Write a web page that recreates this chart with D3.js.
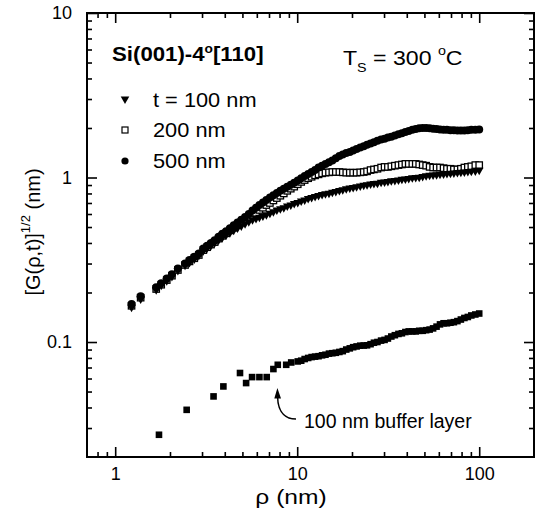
<!DOCTYPE html>
<html><head><meta charset="utf-8">
<script src="https://cdn.jsdelivr.net/npm/d3@7"></script>
<style>
body{margin:0;background:#fff}
text{font-family:"Liberation Sans",Arial,Helvetica,sans-serif;fill:#000}
</style>
</head><body>
<svg id="chart" width="541" height="524"></svg>
<script>
// ---------- data ----------
const rho = [
  1.23, 1.38, 1.68, 1.79, 1.92,
  2.05, 2.21, 2.42, 2.56, 2.72,
  2.88, 3.05, 3.2, 3.36, 3.52,
  3.7, 3.88, 4.07, 4.27, 4.48,
  4.7, 4.93, 5.17, 5.42, 5.68,
  5.94, 6.2, 6.48, 6.77, 7.08,
  7.4, 7.73, 8.08, 8.44, 8.82,
  9.22, 9.63, 10.07, 10.52, 10.99,
  11.49, 12.0, 12.54, 13.1, 13.7,
  14.3, 14.95, 15.6, 16.3, 17.05,
  17.8, 18.6, 19.45, 20.3, 21.2,
  22.2, 23.2, 24.2, 25.3, 26.4,
  27.6, 28.9, 30.2, 31.5, 32.9,
  34.4, 36.0, 37.6, 39.3, 41.0,
  42.9, 44.8, 46.8, 48.9, 51.1,
  53.4, 55.8, 58.3, 60.9, 63.7,
  66.5, 69.5, 72.6, 75.9, 79.3,
  82.9, 86.6, 90.5, 95.2, 100
];
// t = 100 nm (filled down-triangles)
const g100 = [
  0.16, 0.18, 0.205, 0.218, 0.232,
  0.246, 0.268, 0.288, 0.30, 0.315,
  0.33, 0.353, 0.367, 0.38, 0.395,
  0.41, 0.425, 0.44, 0.455, 0.47,
  0.485, 0.50, 0.515, 0.53, 0.545,
  0.555, 0.565, 0.575, 0.585, 0.597,
  0.61, 0.625, 0.635, 0.645, 0.66,
  0.67, 0.685, 0.695, 0.71, 0.72,
  0.735, 0.745, 0.755, 0.765, 0.775,
  0.785, 0.79, 0.80, 0.81, 0.82,
  0.83, 0.84, 0.85, 0.855, 0.865,
  0.875, 0.885, 0.89, 0.90, 0.905,
  0.91, 0.92, 0.925, 0.93, 0.94,
  0.945, 0.95, 0.96, 0.965, 0.97,
  0.98, 0.985, 0.99, 1.0, 1.01,
  1.015, 1.02, 1.025, 1.03, 1.035,
  1.04, 1.045, 1.05, 1.055, 1.06,
  1.065, 1.07, 1.075, 1.08, 1.09
];
// t = 200 nm (open squares)
const g200 = [
  0.166, 0.186, 0.21, 0.223, 0.238,
  0.253, 0.274, 0.294, 0.309, 0.323,
  0.338, 0.362, 0.377, 0.391, 0.405,
  0.425, 0.442, 0.458, 0.477, 0.495,
  0.513, 0.533, 0.553, 0.57, 0.59,
  0.61, 0.635, 0.655, 0.68, 0.70,
  0.725, 0.75, 0.775, 0.80, 0.83,
  0.855, 0.88, 0.91, 0.94, 0.965,
  0.99, 1.01, 1.03, 1.045, 1.06,
  1.07, 1.075, 1.08, 1.08, 1.08,
  1.075, 1.07, 1.07, 1.07, 1.07,
  1.075, 1.08, 1.09, 1.11, 1.12,
  1.13, 1.15, 1.16, 1.16, 1.17,
  1.18, 1.19, 1.20, 1.21, 1.21,
  1.21, 1.21, 1.20, 1.19, 1.18,
  1.16, 1.15, 1.15, 1.15, 1.14,
  1.13, 1.13, 1.12, 1.12, 1.13,
  1.15, 1.16, 1.17, 1.19, 1.19
];
// t = 500 nm (filled circles)
const g500 = [
  0.17, 0.19, 0.215, 0.228, 0.243,
  0.258, 0.28, 0.30, 0.315, 0.33,
  0.345, 0.37, 0.385, 0.40, 0.415,
  0.437, 0.455, 0.472, 0.492, 0.512,
  0.532, 0.553, 0.575, 0.60, 0.63,
  0.655, 0.68, 0.705, 0.73, 0.755,
  0.78, 0.805, 0.83, 0.855, 0.88,
  0.905, 0.93, 0.96, 0.99, 1.02,
  1.05, 1.08, 1.11, 1.15, 1.18,
  1.21, 1.24, 1.27, 1.31, 1.35,
  1.38, 1.41, 1.43, 1.46, 1.49,
  1.52, 1.55, 1.58, 1.61, 1.64,
  1.67, 1.70, 1.72, 1.75, 1.77,
  1.80, 1.83, 1.86, 1.89, 1.92,
  1.95, 1.97, 1.99, 2.0, 2.0,
  1.99, 1.98, 1.97, 1.96, 1.95,
  1.95, 1.94, 1.94, 1.93, 1.93,
  1.93, 1.94, 1.95, 1.95, 1.96
];
// 100 nm buffer layer (filled squares)
const bufRho = [
  1.74, 2.47, 3.47, 3.93, 4.85,
  5.24, 5.65, 6.2, 6.8, 7.4,
  7.82, 8.7, 9.27, 10.07, 10.52,
  10.99, 11.49, 12.0, 12.54, 13.1,
  13.7, 14.3, 14.95, 15.6, 16.3,
  17.05, 17.8, 18.6, 19.45, 20.3,
  21.2, 22.2, 23.2, 24.2, 25.3,
  26.4, 27.6, 28.9, 30.2, 31.5,
  32.9, 34.4, 36.0, 37.6, 39.3,
  41.0, 42.9, 44.8, 46.8, 48.9,
  51.1, 53.4, 55.8, 58.3, 60.9,
  63.7, 66.5, 69.5, 72.6, 75.9,
  79.3, 82.9, 86.6, 90.5, 95.2, 100
];
const bufG = [
  0.0273, 0.0387, 0.0467, 0.0537, 0.0648,
  0.0563, 0.0612, 0.0612, 0.0612, 0.0685,
  0.0727, 0.0727, 0.0751, 0.0762, 0.077,
  0.0788, 0.080, 0.081, 0.0815, 0.082,
  0.083, 0.0837, 0.085, 0.0855, 0.086,
  0.087, 0.088, 0.090, 0.0915, 0.093,
  0.094, 0.095, 0.0952, 0.0955, 0.097,
  0.099, 0.100, 0.102, 0.103, 0.105,
  0.108, 0.110, 0.112, 0.113, 0.115,
  0.116, 0.116, 0.116, 0.117, 0.117,
  0.118, 0.119, 0.121, 0.124, 0.128,
  0.130, 0.130, 0.131, 0.132, 0.134,
  0.137, 0.140, 0.142, 0.145, 0.147, 0.149
];
const xMajor = [1, 10, 100];
const xMinor = [0.8, 0.9, 2, 3, 4, 5, 6, 7, 8, 9, 20, 30, 40, 50, 60, 70, 80, 90];
const yMajor = [0.1, 1, 10];
const yMinor = [0.03, 0.04, 0.05, 0.06, 0.07, 0.08, 0.09, 0.2, 0.3, 0.4, 0.5, 0.6, 0.7, 0.8, 0.9, 2, 3, 4, 5, 6, 7, 8, 9];
const legendLabels = ["t = 100 nm", "200 nm", "500 nm"];

// ---------- layout ----------
const L = 87, R = 534, T = 13, B = 457;
const svg = d3.select("#chart");
const x = d3.scaleLog().domain([0.7, 200]).range([L, R]);
const y = d3.scaleLog().domain([0.02, 10]).range([B, T]);
const fmt = d => String(d);

// axes (ticks inward)
function axisGroup(axisFn, vals, size, tx, ty, labels) {
  const a = axisFn.tickValues(vals).tickSize(-size).tickSizeOuter(0);
  if (labels) a.tickFormat(fmt); else a.tickFormat("");
  const g = svg.append("g").attr("transform", `translate(${tx},${ty})`).call(a);
  g.select(".domain").remove();
  g.selectAll(".tick line").attr("stroke", "#000").attr("stroke-width", 1.6);
  g.selectAll("text").attr("font-size", 18).attr("fill", "#000")
    .attr("font-family", '"Liberation Sans",Arial,sans-serif');
  return g;
}
axisGroup(d3.axisBottom(x).tickPadding(10.5), xMajor, 10, 0, B, true);
axisGroup(d3.axisBottom(x), xMinor, 5, 0, B, false);
axisGroup(d3.axisTop(x), xMajor, 10, 0, T, false);
axisGroup(d3.axisTop(x), xMinor, 5, 0, T, false);
axisGroup(d3.axisLeft(y).tickPadding(15), yMajor, 10, L, 0, true);
axisGroup(d3.axisLeft(y), yMinor, 5, L, 0, false);
axisGroup(d3.axisRight(y), yMajor, 10, R, 0, false);
axisGroup(d3.axisRight(y), yMinor, 5, R, 0, false);

svg.append("rect").attr("x", L).attr("y", T).attr("width", R - L).attr("height", B - T)
  .attr("fill", "none").attr("stroke", "#000").attr("stroke-width", 2);

// ---------- marks ----------
const tri = "M-4.3,-3.6L4.3,-3.6L0,3.9Z";
const pts = vals => vals.map((v, i) => [rho[i], v]);

// open squares (200 nm) drawn first
svg.append("g").selectAll("rect").data(pts(g200)).join("rect")
  .attr("x", d => x(d[0]) - 3.2).attr("y", d => y(d[1]) - 3.2)
  .attr("width", 6.4).attr("height", 6.4)
  .attr("fill", "#fff").attr("stroke", "#000").attr("stroke-width", 1.3);
// triangles (100 nm)
svg.append("g").selectAll("path").data(pts(g100)).join("path")
  .attr("d", tri).attr("transform", d => `translate(${x(d[0])},${y(d[1])})`)
  .attr("fill", "#000");
// circles (500 nm)
svg.append("g").selectAll("circle").data(pts(g500)).join("circle")
  .attr("cx", d => x(d[0])).attr("cy", d => y(d[1])).attr("r", 4)
  .attr("fill", "#000");
// buffer layer squares
svg.append("g").selectAll("rect").data(bufRho.map((r, i) => [r, bufG[i]])).join("rect")
  .attr("x", d => x(d[0]) - 3.3).attr("y", d => y(d[1]) - 3.3)
  .attr("width", 6.6).attr("height", 6.6).attr("fill", "#000");

// ---------- texts ----------
function wideText(tx, ty, sx, size) {
  return svg.append("g").attr("transform", `translate(${tx},${ty}) scale(${sx},1)`)
    .append("text").attr("x", 0).attr("y", 0).attr("font-size", size);
}
const t1 = wideText(112, 61, 1.14, 19.5).attr("font-weight", "bold");
t1.append("tspan").text("Si(001)-4");
t1.append("tspan").attr("font-size", 12).attr("dy", -8).text("o");
t1.append("tspan").attr("dy", 8).text("[110]");

const t2 = wideText(343, 65, 1.1, 21);
t2.append("tspan").text("T");
t2.append("tspan").attr("font-size", 13).attr("dy", 7).text("S");
t2.append("tspan").attr("dy", -7).text(" = 300 ");
t2.append("tspan").attr("font-size", 13).attr("dy", -10).text("o");
t2.append("tspan").attr("dy", 10).text("C");

// legend
const legY = [100, 130, 161];
const lg = svg.append("g");
lg.append("path").attr("d", tri).attr("transform", `translate(125,${legY[0]})`).attr("fill", "#000");
lg.append("rect").attr("x", 122).attr("y", legY[1] - 3).attr("width", 6).attr("height", 6)
  .attr("fill", "#fff").attr("stroke", "#000").attr("stroke-width", 1.2);
lg.append("circle").attr("cx", 125).attr("cy", legY[2]).attr("r", 3.6).attr("fill", "#000");
legendLabels.forEach((s, i) => {
  wideText(153, legY[i] + 7, 1.09, 20).text(s);
});

// annotation
svg.append("text").attr("x", 304).attr("y", 428).attr("font-size", 19.5).text("100 nm buffer layer");
svg.append("path").attr("d", "M296,419 C287,419 278,414 277.6,397")
  .attr("fill", "none").attr("stroke", "#000").attr("stroke-width", 1.5);
svg.append("path").attr("d", "M277.4,388 L274.3,398.5 L281,398.5 Z").attr("fill", "#000");

// axis titles
svg.append("g").attr("transform", "translate(291,504) scale(1.2,1)")
  .append("text").attr("text-anchor", "middle").attr("font-size", 20.5).text("ρ (nm)");
const yt = svg.append("text").attr("transform", "translate(40,232) rotate(-90)")
  .attr("text-anchor", "middle").attr("font-size", 20);
yt.append("tspan").text("[G(ρ,t)]");
yt.append("tspan").attr("font-size", 13).attr("dy", -10).text("1/2");
yt.append("tspan").attr("dy", 10).text(" (nm)");
</script>
</body></html>
